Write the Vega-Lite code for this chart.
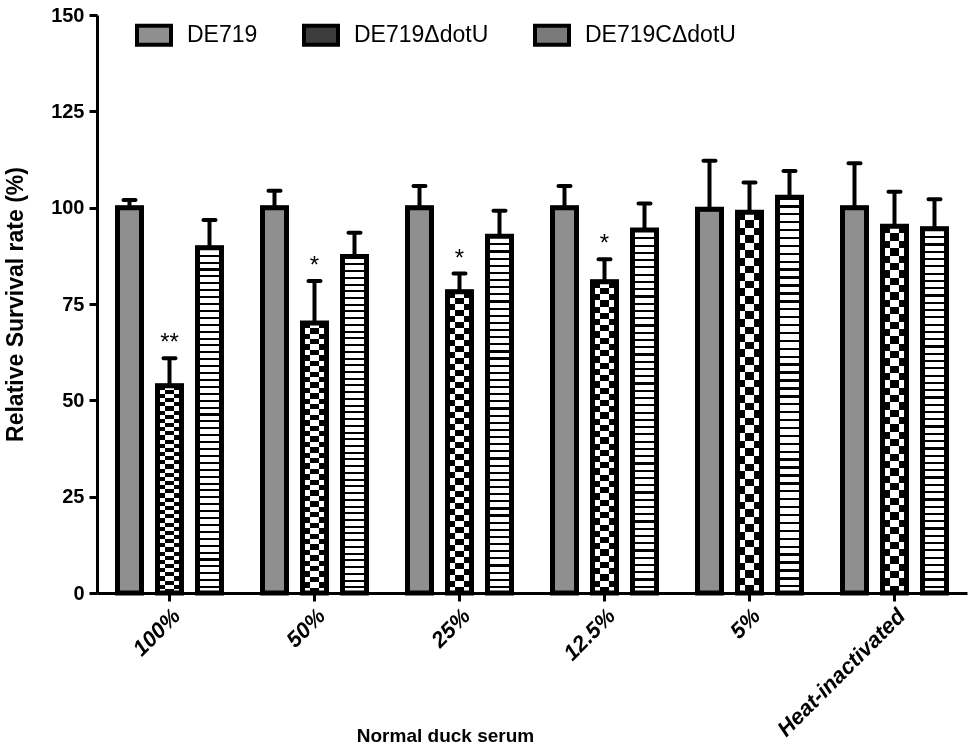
{
"$schema": "https://vega.github.io/schema/vega-lite/v6.json",
"width": 870,
"height": 578,
"autosize": {"type": "none"},
"padding": {"left": 97, "top": 15, "right": 8, "bottom": 158},
"background": "white",
"config": {
  "view": {"stroke": null},
  "font": "Liberation Sans",
  "axis": {"domainColor": "black", "tickColor": "black", "labelColor": "black", "titleColor": "black", "grid": false, "domainWidth": 3, "tickWidth": 3, "tickSize": 8, "labelFont": "Liberation Sans", "titleFont": "Liberation Sans", "labelFontWeight": "bold", "titleFontWeight": "bold"}
},
"data": {"values": [
{"group":"100%","strain":"DE719","value":100,"upper":102.0,"sig":""},
{"group":"100%","strain":"DE719ΔdotU","value":53.8,"upper":60.9,"sig":"**"},
{"group":"100%","strain":"DE719CΔdotU","value":89.6,"upper":96.8,"sig":""},
{"group":"50%","strain":"DE719","value":100,"upper":104.4,"sig":""},
{"group":"50%","strain":"DE719ΔdotU","value":70.1,"upper":81.0,"sig":"*"},
{"group":"50%","strain":"DE719CΔdotU","value":87.3,"upper":93.5,"sig":""},
{"group":"25%","strain":"DE719","value":100,"upper":105.6,"sig":""},
{"group":"25%","strain":"DE719ΔdotU","value":78.2,"upper":82.9,"sig":"*"},
{"group":"25%","strain":"DE719CΔdotU","value":92.6,"upper":99.2,"sig":""},
{"group":"12.5%","strain":"DE719","value":100,"upper":105.6,"sig":""},
{"group":"12.5%","strain":"DE719ΔdotU","value":80.8,"upper":86.6,"sig":"*"},
{"group":"12.5%","strain":"DE719CΔdotU","value":94.2,"upper":101.1,"sig":""},
{"group":"5%","strain":"DE719","value":99.6,"upper":112.2,"sig":""},
{"group":"5%","strain":"DE719ΔdotU","value":98.8,"upper":106.5,"sig":""},
{"group":"5%","strain":"DE719CΔdotU","value":102.7,"upper":109.5,"sig":""},
{"group":"Heat-inactivated","strain":"DE719","value":100,"upper":111.5,"sig":""},
{"group":"Heat-inactivated","strain":"DE719ΔdotU","value":95.2,"upper":104.1,"sig":""},
{"group":"Heat-inactivated","strain":"DE719CΔdotU","value":94.5,"upper":102.2,"sig":""}
]},
"encoding": {
  "x": {"field": "group", "type": "nominal",
    "scale": {"domain": ["100%","50%","25%","12.5%","5%","Heat-inactivated"], "paddingInner": 0.1724, "paddingOuter": 0.0862},
    "axis": {"title": "Normal duck serum", "labelAngle": -45, "labelFontStyle": "italic", "labelFontSize": 22, "labelPadding": 4, "titleFontSize": 19, "titleX": 348, "titleY": 133, "titleAlign": "center", "titleBaseline": "top"}},
  "xOffset": {"field": "strain", "type": "nominal",
    "scale": {"domain": ["DE719","DE719ΔdotU","DE719CΔdotU"], "paddingInner": 0.4, "paddingOuter": 0.2}}
},
"layer": [
  {
    "mark": {"type": "bar", "stroke": "black", "strokeWidth": 4},
    "encoding": {
      "y": {"field": "value", "type": "quantitative", "title": "Relative Survival rate (%)",
        "scale": {"domain": [0, 150], "nice": false},
        "axis": {"values": [0,25,50,75,100,125,150], "labelFontSize": 20, "labelPadding": 5, "titleFontSize": 23, "titlePadding": 23}},
      "fill": {"field": "strain", "type": "nominal",
        "scale": {"domain": ["DE719","DE719ΔdotU","DE719CΔdotU"], "range": ["#8f8f8f", "#3c3c3c", "#7a7a7a"]},
        "legend": {"title": null, "orient": "none", "legendX": 38, "legendY": 1, "direction": "horizontal",
          "symbolType": "M-1,-0.56H1V0.56H-1Z", "symbolSize": 1156, "symbolStrokeColor": "black", "symbolStrokeWidth": 4, "symbolOpacity": 1,
          "labelFont": "Liberation Sans", "labelFontSize": 23, "labelFontWeight": "normal", "labelColor": "black", "labelOffset": 14, "labelLimit": 400,
          "columnPadding": 38, "padding": 0}}
    }
  },
  {
    "transform": [{"filter": {"field": "strain", "equal": "DE719ΔdotU"}}],
    "mark": {"type": "bar",
      "fill": {"gradient":"linear","x1":0,"y1":0,"x2":0,"y2":1,"stops":[
{"offset":0,"color":"#000"},{"offset":0.02,"color":"#000"},{"offset":0.02,"color":"#fff"},{"offset":0.04,"color":"#fff"},
{"offset":0.04,"color":"#000"},{"offset":0.06,"color":"#000"},{"offset":0.06,"color":"#fff"},{"offset":0.08,"color":"#fff"},
{"offset":0.08,"color":"#000"},{"offset":0.1,"color":"#000"},{"offset":0.1,"color":"#fff"},{"offset":0.12,"color":"#fff"},
{"offset":0.12,"color":"#000"},{"offset":0.14,"color":"#000"},{"offset":0.14,"color":"#fff"},{"offset":0.16,"color":"#fff"},
{"offset":0.16,"color":"#000"},{"offset":0.18,"color":"#000"},{"offset":0.18,"color":"#fff"},{"offset":0.2,"color":"#fff"},
{"offset":0.2,"color":"#000"},{"offset":0.22,"color":"#000"},{"offset":0.22,"color":"#fff"},{"offset":0.24,"color":"#fff"},
{"offset":0.24,"color":"#000"},{"offset":0.26,"color":"#000"},{"offset":0.26,"color":"#fff"},{"offset":0.28,"color":"#fff"},
{"offset":0.28,"color":"#000"},{"offset":0.3,"color":"#000"},{"offset":0.3,"color":"#fff"},{"offset":0.32,"color":"#fff"},
{"offset":0.32,"color":"#000"},{"offset":0.34,"color":"#000"},{"offset":0.34,"color":"#fff"},{"offset":0.36,"color":"#fff"},
{"offset":0.36,"color":"#000"},{"offset":0.38,"color":"#000"},{"offset":0.38,"color":"#fff"},{"offset":0.4,"color":"#fff"},
{"offset":0.4,"color":"#000"},{"offset":0.42,"color":"#000"},{"offset":0.42,"color":"#fff"},{"offset":0.44,"color":"#fff"},
{"offset":0.44,"color":"#000"},{"offset":0.46,"color":"#000"},{"offset":0.46,"color":"#fff"},{"offset":0.48,"color":"#fff"},
{"offset":0.48,"color":"#000"},{"offset":0.5,"color":"#000"},{"offset":0.5,"color":"#fff"},{"offset":0.52,"color":"#fff"},
{"offset":0.52,"color":"#000"},{"offset":0.54,"color":"#000"},{"offset":0.54,"color":"#fff"},{"offset":0.56,"color":"#fff"},
{"offset":0.56,"color":"#000"},{"offset":0.58,"color":"#000"},{"offset":0.58,"color":"#fff"},{"offset":0.6,"color":"#fff"},
{"offset":0.6,"color":"#000"},{"offset":0.62,"color":"#000"},{"offset":0.62,"color":"#fff"},{"offset":0.64,"color":"#fff"},
{"offset":0.64,"color":"#000"},{"offset":0.66,"color":"#000"},{"offset":0.66,"color":"#fff"},{"offset":0.68,"color":"#fff"},
{"offset":0.68,"color":"#000"},{"offset":0.7,"color":"#000"},{"offset":0.7,"color":"#fff"},{"offset":0.72,"color":"#fff"},
{"offset":0.72,"color":"#000"},{"offset":0.74,"color":"#000"},{"offset":0.74,"color":"#fff"},{"offset":0.76,"color":"#fff"},
{"offset":0.76,"color":"#000"},{"offset":0.78,"color":"#000"},{"offset":0.78,"color":"#fff"},{"offset":0.8,"color":"#fff"},
{"offset":0.8,"color":"#000"},{"offset":0.82,"color":"#000"},{"offset":0.82,"color":"#fff"},{"offset":0.84,"color":"#fff"},
{"offset":0.84,"color":"#000"},{"offset":0.86,"color":"#000"},{"offset":0.86,"color":"#fff"},{"offset":0.88,"color":"#fff"},
{"offset":0.88,"color":"#000"},{"offset":0.9,"color":"#000"},{"offset":0.9,"color":"#fff"},{"offset":0.92,"color":"#fff"},
{"offset":0.92,"color":"#000"},{"offset":0.94,"color":"#000"},{"offset":0.94,"color":"#fff"},{"offset":0.96,"color":"#fff"},
{"offset":0.96,"color":"#000"},{"offset":0.98,"color":"#000"},{"offset":0.98,"color":"#fff"},{"offset":1,"color":"#fff"}
      ]}},
    "encoding": {
      "y": {"field": "value", "type": "quantitative", "title": "Relative Survival rate (%)"}
    }
  },
  {
    "transform": [{"filter": {"field": "strain", "equal": "DE719CΔdotU"}}],
    "mark": {"type": "bar",
      "fill": {"gradient":"linear","x1":0,"y1":0,"x2":0,"y2":1,"stops":[
{"offset":0,"color":"#000"},{"offset":0.006,"color":"#000"},{"offset":0.006,"color":"#fff"},{"offset":0.02,"color":"#fff"},
{"offset":0.02,"color":"#000"},{"offset":0.026,"color":"#000"},{"offset":0.026,"color":"#fff"},{"offset":0.04,"color":"#fff"},
{"offset":0.04,"color":"#000"},{"offset":0.046,"color":"#000"},{"offset":0.046,"color":"#fff"},{"offset":0.06,"color":"#fff"},
{"offset":0.06,"color":"#000"},{"offset":0.066,"color":"#000"},{"offset":0.066,"color":"#fff"},{"offset":0.08,"color":"#fff"},
{"offset":0.08,"color":"#000"},{"offset":0.086,"color":"#000"},{"offset":0.086,"color":"#fff"},{"offset":0.1,"color":"#fff"},
{"offset":0.1,"color":"#000"},{"offset":0.106,"color":"#000"},{"offset":0.106,"color":"#fff"},{"offset":0.12,"color":"#fff"},
{"offset":0.12,"color":"#000"},{"offset":0.126,"color":"#000"},{"offset":0.126,"color":"#fff"},{"offset":0.14,"color":"#fff"},
{"offset":0.14,"color":"#000"},{"offset":0.146,"color":"#000"},{"offset":0.146,"color":"#fff"},{"offset":0.16,"color":"#fff"},
{"offset":0.16,"color":"#000"},{"offset":0.166,"color":"#000"},{"offset":0.166,"color":"#fff"},{"offset":0.18,"color":"#fff"},
{"offset":0.18,"color":"#000"},{"offset":0.186,"color":"#000"},{"offset":0.186,"color":"#fff"},{"offset":0.2,"color":"#fff"},
{"offset":0.2,"color":"#000"},{"offset":0.206,"color":"#000"},{"offset":0.206,"color":"#fff"},{"offset":0.22,"color":"#fff"},
{"offset":0.22,"color":"#000"},{"offset":0.226,"color":"#000"},{"offset":0.226,"color":"#fff"},{"offset":0.24,"color":"#fff"},
{"offset":0.24,"color":"#000"},{"offset":0.246,"color":"#000"},{"offset":0.246,"color":"#fff"},{"offset":0.26,"color":"#fff"},
{"offset":0.26,"color":"#000"},{"offset":0.266,"color":"#000"},{"offset":0.266,"color":"#fff"},{"offset":0.28,"color":"#fff"},
{"offset":0.28,"color":"#000"},{"offset":0.286,"color":"#000"},{"offset":0.286,"color":"#fff"},{"offset":0.3,"color":"#fff"},
{"offset":0.3,"color":"#000"},{"offset":0.306,"color":"#000"},{"offset":0.306,"color":"#fff"},{"offset":0.32,"color":"#fff"},
{"offset":0.32,"color":"#000"},{"offset":0.326,"color":"#000"},{"offset":0.326,"color":"#fff"},{"offset":0.34,"color":"#fff"},
{"offset":0.34,"color":"#000"},{"offset":0.346,"color":"#000"},{"offset":0.346,"color":"#fff"},{"offset":0.36,"color":"#fff"},
{"offset":0.36,"color":"#000"},{"offset":0.366,"color":"#000"},{"offset":0.366,"color":"#fff"},{"offset":0.38,"color":"#fff"},
{"offset":0.38,"color":"#000"},{"offset":0.386,"color":"#000"},{"offset":0.386,"color":"#fff"},{"offset":0.4,"color":"#fff"},
{"offset":0.4,"color":"#000"},{"offset":0.406,"color":"#000"},{"offset":0.406,"color":"#fff"},{"offset":0.42,"color":"#fff"},
{"offset":0.42,"color":"#000"},{"offset":0.426,"color":"#000"},{"offset":0.426,"color":"#fff"},{"offset":0.44,"color":"#fff"},
{"offset":0.44,"color":"#000"},{"offset":0.446,"color":"#000"},{"offset":0.446,"color":"#fff"},{"offset":0.46,"color":"#fff"},
{"offset":0.46,"color":"#000"},{"offset":0.466,"color":"#000"},{"offset":0.466,"color":"#fff"},{"offset":0.48,"color":"#fff"},
{"offset":0.48,"color":"#000"},{"offset":0.486,"color":"#000"},{"offset":0.486,"color":"#fff"},{"offset":0.5,"color":"#fff"},
{"offset":0.5,"color":"#000"},{"offset":0.506,"color":"#000"},{"offset":0.506,"color":"#fff"},{"offset":0.52,"color":"#fff"},
{"offset":0.52,"color":"#000"},{"offset":0.526,"color":"#000"},{"offset":0.526,"color":"#fff"},{"offset":0.54,"color":"#fff"},
{"offset":0.54,"color":"#000"},{"offset":0.546,"color":"#000"},{"offset":0.546,"color":"#fff"},{"offset":0.56,"color":"#fff"},
{"offset":0.56,"color":"#000"},{"offset":0.566,"color":"#000"},{"offset":0.566,"color":"#fff"},{"offset":0.58,"color":"#fff"},
{"offset":0.58,"color":"#000"},{"offset":0.586,"color":"#000"},{"offset":0.586,"color":"#fff"},{"offset":0.6,"color":"#fff"},
{"offset":0.6,"color":"#000"},{"offset":0.606,"color":"#000"},{"offset":0.606,"color":"#fff"},{"offset":0.62,"color":"#fff"},
{"offset":0.62,"color":"#000"},{"offset":0.626,"color":"#000"},{"offset":0.626,"color":"#fff"},{"offset":0.64,"color":"#fff"},
{"offset":0.64,"color":"#000"},{"offset":0.646,"color":"#000"},{"offset":0.646,"color":"#fff"},{"offset":0.66,"color":"#fff"},
{"offset":0.66,"color":"#000"},{"offset":0.666,"color":"#000"},{"offset":0.666,"color":"#fff"},{"offset":0.68,"color":"#fff"},
{"offset":0.68,"color":"#000"},{"offset":0.686,"color":"#000"},{"offset":0.686,"color":"#fff"},{"offset":0.7,"color":"#fff"},
{"offset":0.7,"color":"#000"},{"offset":0.706,"color":"#000"},{"offset":0.706,"color":"#fff"},{"offset":0.72,"color":"#fff"},
{"offset":0.72,"color":"#000"},{"offset":0.726,"color":"#000"},{"offset":0.726,"color":"#fff"},{"offset":0.74,"color":"#fff"},
{"offset":0.74,"color":"#000"},{"offset":0.746,"color":"#000"},{"offset":0.746,"color":"#fff"},{"offset":0.76,"color":"#fff"},
{"offset":0.76,"color":"#000"},{"offset":0.766,"color":"#000"},{"offset":0.766,"color":"#fff"},{"offset":0.78,"color":"#fff"},
{"offset":0.78,"color":"#000"},{"offset":0.786,"color":"#000"},{"offset":0.786,"color":"#fff"},{"offset":0.8,"color":"#fff"},
{"offset":0.8,"color":"#000"},{"offset":0.806,"color":"#000"},{"offset":0.806,"color":"#fff"},{"offset":0.82,"color":"#fff"},
{"offset":0.82,"color":"#000"},{"offset":0.826,"color":"#000"},{"offset":0.826,"color":"#fff"},{"offset":0.84,"color":"#fff"},
{"offset":0.84,"color":"#000"},{"offset":0.846,"color":"#000"},{"offset":0.846,"color":"#fff"},{"offset":0.86,"color":"#fff"},
{"offset":0.86,"color":"#000"},{"offset":0.866,"color":"#000"},{"offset":0.866,"color":"#fff"},{"offset":0.88,"color":"#fff"},
{"offset":0.88,"color":"#000"},{"offset":0.886,"color":"#000"},{"offset":0.886,"color":"#fff"},{"offset":0.9,"color":"#fff"},
{"offset":0.9,"color":"#000"},{"offset":0.906,"color":"#000"},{"offset":0.906,"color":"#fff"},{"offset":0.92,"color":"#fff"},
{"offset":0.92,"color":"#000"},{"offset":0.926,"color":"#000"},{"offset":0.926,"color":"#fff"},{"offset":0.94,"color":"#fff"},
{"offset":0.94,"color":"#000"},{"offset":0.946,"color":"#000"},{"offset":0.946,"color":"#fff"},{"offset":0.96,"color":"#fff"},
{"offset":0.96,"color":"#000"},{"offset":0.966,"color":"#000"},{"offset":0.966,"color":"#fff"},{"offset":0.98,"color":"#fff"},
{"offset":0.98,"color":"#000"},{"offset":0.986,"color":"#000"},{"offset":0.986,"color":"#fff"},{"offset":1,"color":"#fff"}
      ]}},
    "encoding": {
      "y": {"field": "value", "type": "quantitative", "title": "Relative Survival rate (%)"}
    }
  },
  {
    "transform": [{"filter": {"field": "strain", "equal": "DE719ΔdotU"}}],
    "mark": {"type": "bar", "blend": "difference",
      "fill": {"gradient":"linear","x1":0,"y1":0,"x2":1,"y2":0,"stops":[
        {"offset":0,"color":"#000"},{"offset":0.333,"color":"#000"},{"offset":0.333,"color":"#fff"},{"offset":0.667,"color":"#fff"},
        {"offset":0.667,"color":"#000"},{"offset":1,"color":"#000"}]}},
    "encoding": {
      "y": {"field": "value", "type": "quantitative", "title": "Relative Survival rate (%)"}
    }
  },
  {
    "mark": {"type": "bar", "fill": "transparent", "stroke": "black", "strokeWidth": 5},
    "encoding": {
      "y": {"field": "value", "type": "quantitative", "title": "Relative Survival rate (%)"}
    }
  },
  {
    "mark": {"type": "rule", "color": "black", "strokeWidth": 4},
    "encoding": {
      "y": {"field": "value", "type": "quantitative", "title": "Relative Survival rate (%)"},
      "y2": {"field": "upper"}
    }
  },
  {
    "mark": {"type": "tick", "orient": "horizontal", "color": "black", "size": 16, "thickness": 4, "cornerRadius": 2, "opacity": 1},
    "encoding": {
      "y": {"field": "upper", "type": "quantitative", "title": "Relative Survival rate (%)"}
    }
  },
  {
    "transform": [{"filter": "datum.sig != ''"}],
    "mark": {"type": "text", "fontSize": 24, "baseline": "alphabetic", "dy": -8, "color": "black", "font": "Liberation Sans"},
    "encoding": {
      "y": {"field": "upper", "type": "quantitative", "title": "Relative Survival rate (%)"},
      "text": {"field": "sig"}
    }
  }
]
}
